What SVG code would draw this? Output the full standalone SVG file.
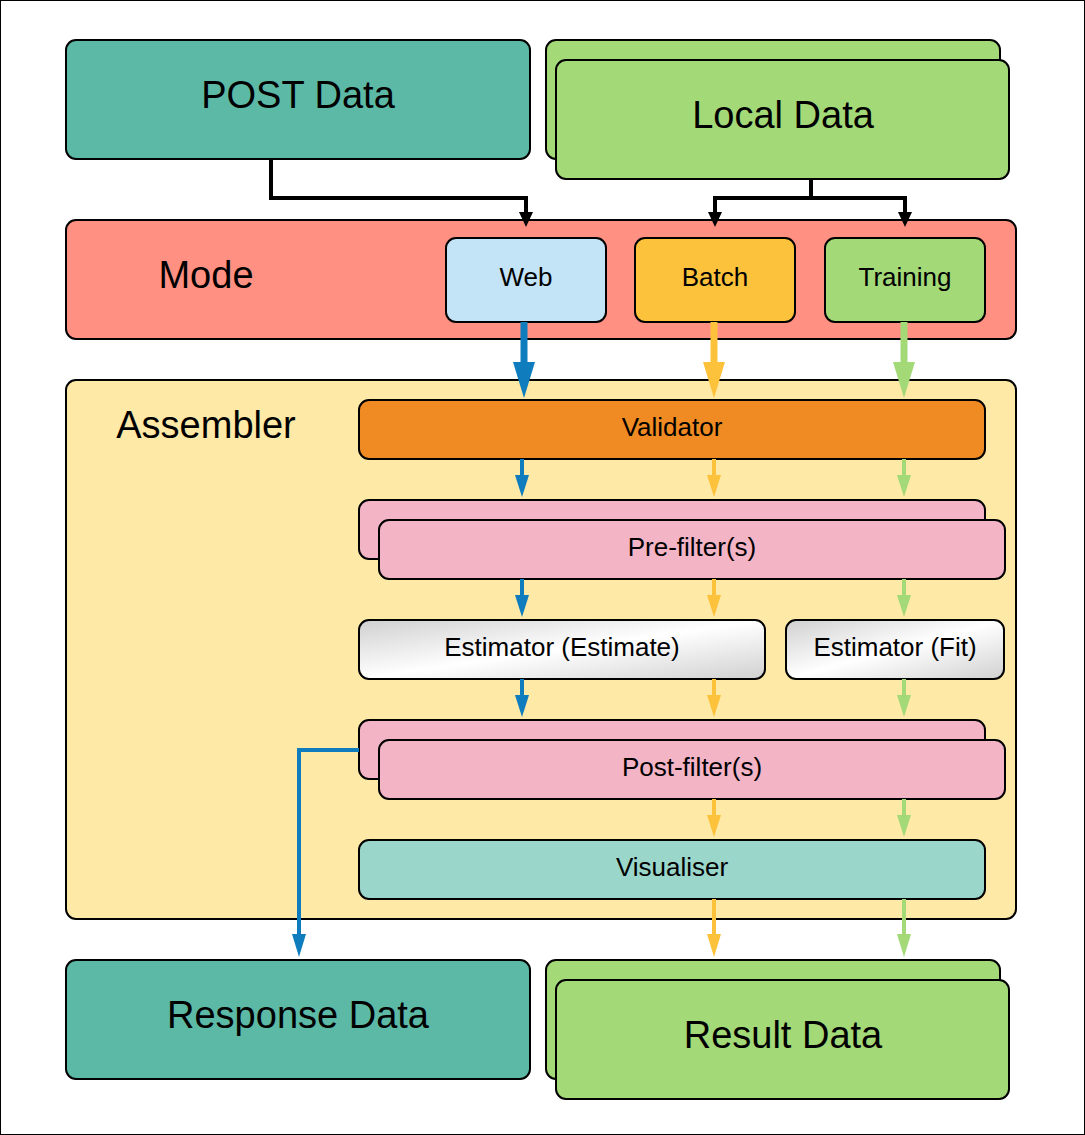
<svg xmlns="http://www.w3.org/2000/svg" width="1085" height="1135" viewBox="0 0 1085 1135">
<style>
rect{stroke:#000;stroke-width:2}
text{font-family:"Liberation Sans",Arial,sans-serif;text-anchor:middle;fill:#000}
.big{font-size:38px}.mid{font-size:28px}.sm{font-size:26px}
.b{stroke:#0f7dbd;fill:none}.o{stroke:#fcc23b;fill:none}.g{stroke:#a3d977;fill:none}.k{stroke:#000;fill:none;stroke-width:4}
</style>
<defs>
<linearGradient id="gr" x1="0" y1="0" x2="1" y2="1"><stop offset="0" stop-color="#d0d0d0"/><stop offset="0.5" stop-color="#fff"/><stop offset="1" stop-color="#d0d0d0"/></linearGradient>
</defs>
<rect width="1085" height="1135" fill="#fff" stroke="none"/>
<g id="post"><rect x="66" y="40" width="464" height="119" rx="10" fill="#5bb9a6"/><text class="big" x="298" y="108">POST Data</text></g>
<g id="local"><rect x="546" y="40" width="454" height="119" rx="10" fill="#a3d977"/><rect x="556" y="60" width="453" height="119" rx="10" fill="#a3d977"/><text class="big" x="783" y="128">Local Data</text></g>
<g id="mode"><rect x="66" y="220" width="950" height="119" rx="10" fill="#ff9082"/><text class="big" x="206" y="288">Mode</text></g>
<g id="web"><rect x="446" y="238" width="160" height="84" rx="10" fill="#c3e4f7"/><text class="sm" x="526" y="286">Web</text></g>
<g id="batch"><rect x="635" y="238" width="160" height="84" rx="10" fill="#fcc23b"/><text class="sm" x="715" y="286">Batch</text></g>
<g id="training"><rect x="825" y="238" width="160" height="84" rx="10" fill="#a3d977"/><text class="sm" x="905" y="286">Training</text></g>
<g id="assembler"><rect x="66" y="380" width="950" height="539" rx="10" fill="#ffe9a6"/><text class="big" x="206" y="438">Assembler</text></g>
<g id="validator"><rect x="359" y="400" width="626" height="59" rx="10" fill="#ef8b22"/><text class="sm" x="672" y="436">Validator</text></g>
<g id="prefilter"><rect x="359" y="500" width="626" height="59" rx="10" fill="#f3b4c6"/><rect x="379" y="520" width="626" height="59" rx="10" fill="#f3b4c6"/><text class="sm" x="692" y="556">Pre-filter(s)</text></g>
<g id="estimate"><rect x="359" y="620" width="406" height="59" rx="10" fill="url(#gr)"/><text class="sm" x="562" y="656">Estimator (Estimate)</text></g>
<g id="fit"><rect x="786" y="620" width="218" height="59" rx="10" fill="url(#gr)"/><text class="sm" x="895" y="656">Estimator (Fit)</text></g>
<g id="postfilter"><rect x="359" y="720" width="626" height="59" rx="10" fill="#f3b4c6"/><rect x="379" y="740" width="626" height="59" rx="10" fill="#f3b4c6"/><text class="sm" x="692" y="776">Post-filter(s)</text></g>
<g id="visualiser"><rect x="359" y="840" width="626" height="59" rx="10" fill="#9bd6cb"/><text class="sm" x="672" y="876">Visualiser</text></g>
<g id="response"><rect x="66" y="960" width="464" height="119" rx="10" fill="#5bb9a6"/><text class="big" x="298" y="1028">Response Data</text></g>
<g id="result"><rect x="546" y="960" width="454" height="119" rx="10" fill="#a3d977"/><rect x="556" y="980" width="453" height="119" rx="10" fill="#a3d977"/><text class="big" x="783" y="1048">Result Data</text></g>
<g id="connectors">
<path class="k" d="M271 159V198H526V222"/><polygon points="519,212 533,212 526,227"/>
<path class="k" d="M811 179V198H715V222M811 198H905V222"/><polygon points="708,212 722,212 715,227"/><polygon points="898,212 912,212 905,227"/>
<path class="b" stroke-width="7" d="M524 322V365"/><polygon fill="#0f7dbd" points="513,362 535,362 524,398"/>
<path class="o" stroke-width="7" d="M714 322V365"/><polygon fill="#fcc23b" points="703,362 725,362 714,398"/>
<path class="g" stroke-width="7" d="M904 322V365"/><polygon fill="#a3d977" points="893,362 915,362 904,398"/>
<g stroke-width="4">
<path class="b" d="M522 459V478M522 579V598M522 679V698"/>
<path class="o" d="M714 459V478M714 579V598M714 679V698M714 799V818M714 899V938"/>
<path class="g" d="M904 459V478M904 579V598M904 679V698M904 799V818M904 899V938"/>
<path class="b" d="M359 750H299V938"/>
</g>
<g fill="#0f7dbd"><polygon points="515,475 529,475 522,497"/><polygon points="515,595 529,595 522,617"/><polygon points="515,695 529,695 522,717"/><polygon points="292,934 306,934 299,957"/></g>
<g fill="#fcc23b"><polygon points="707,475 721,475 714,497"/><polygon points="707,595 721,595 714,617"/><polygon points="707,695 721,695 714,717"/><polygon points="707,815 721,815 714,837"/><polygon points="707,934 721,934 714,957"/></g>
<g fill="#a3d977"><polygon points="897,475 911,475 904,497"/><polygon points="897,595 911,595 904,617"/><polygon points="897,695 911,695 904,717"/><polygon points="897,815 911,815 904,837"/><polygon points="897,934 911,934 904,957"/></g>
</g>
</svg>
